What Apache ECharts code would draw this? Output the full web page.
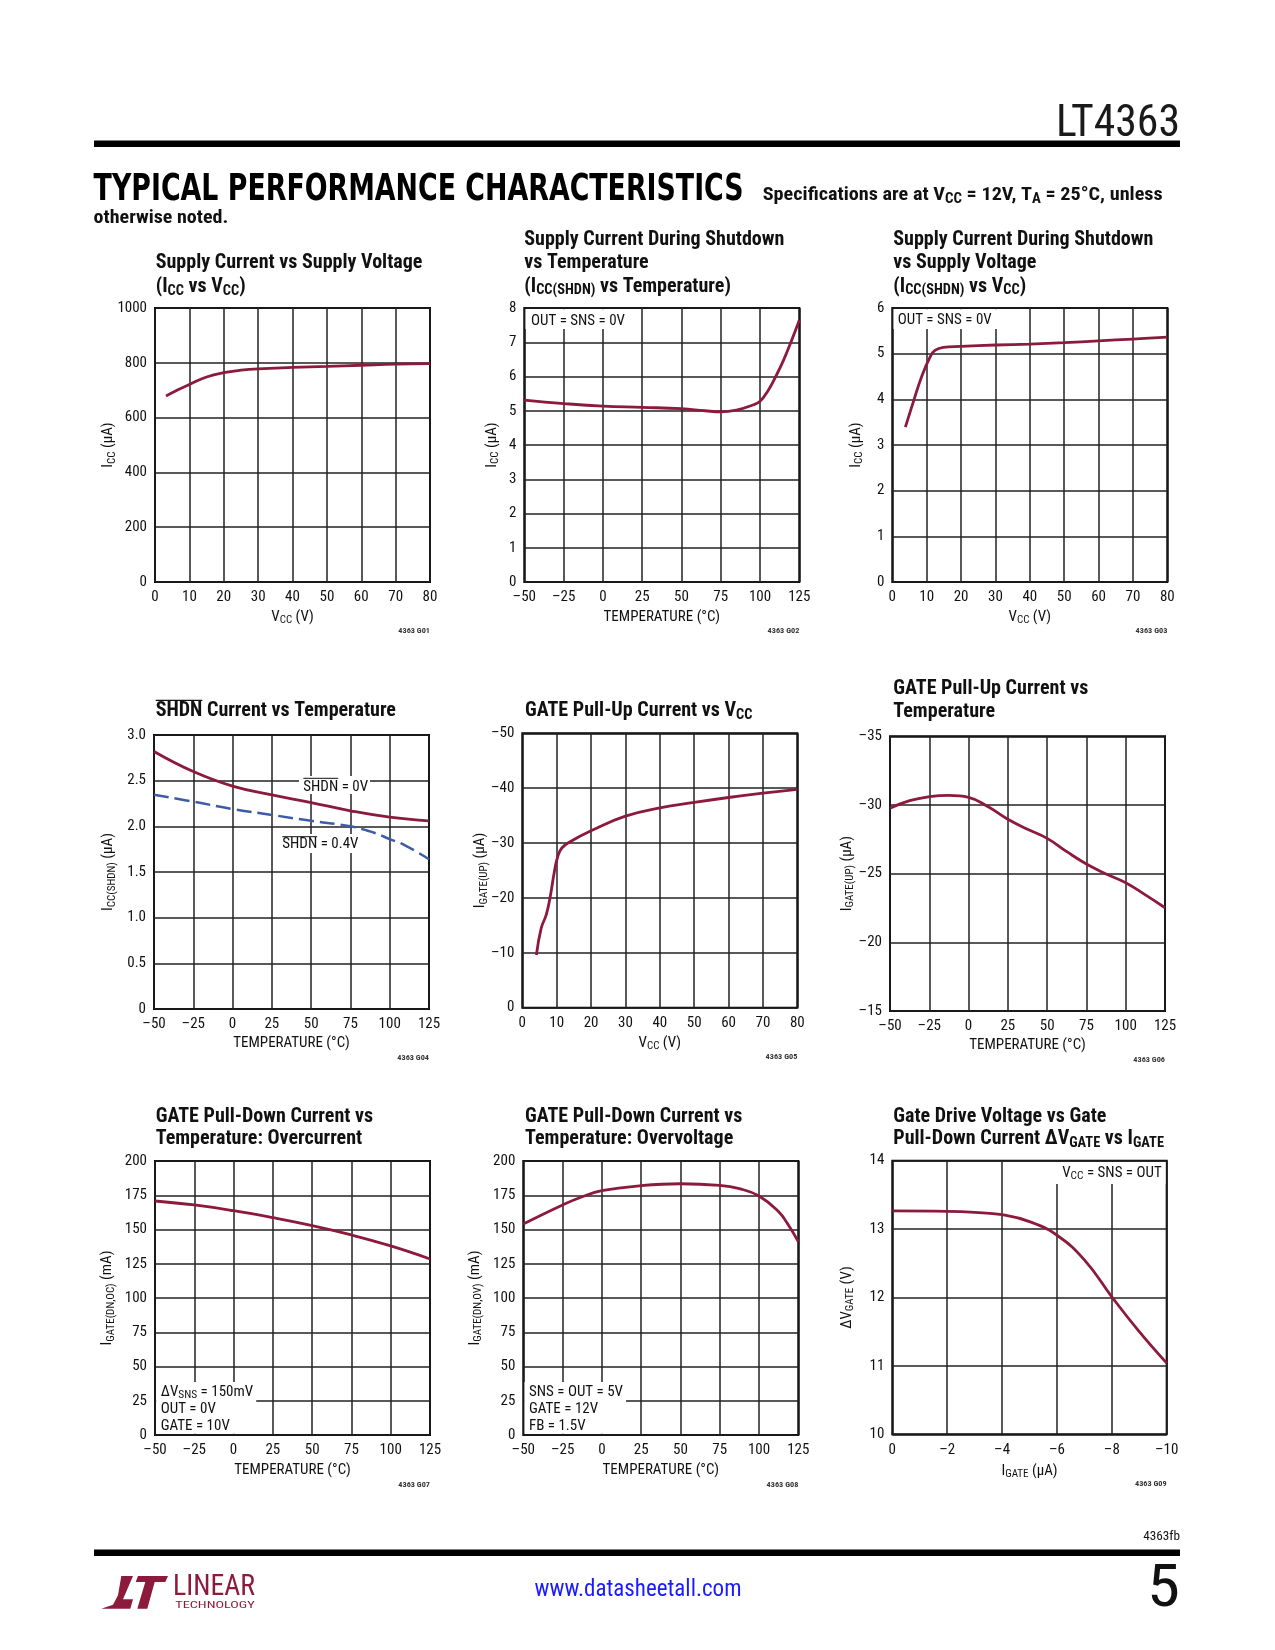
<!DOCTYPE html>
<html><head><meta charset="utf-8">
<script src="https://cdn.jsdelivr.net/npm/echarts@6/dist/echarts.min.js"></script>
<style>html,body{margin:0;padding:0;background:#fff}#c{width:1275px;height:1650px}</style>
</head><body><div id="c"></div><script>
// ---------------- DATA ----------------
const g1_vcc = [3.2, 6, 10, 15, 20, 25, 30, 40, 50, 60, 70, 80];
const g1_icc = [679, 697, 721, 748, 764, 773, 778, 783, 787, 791, 795, 797];
const g1_xaxis = [0, 80, 10], g1_yaxis = [0, 1000, 200];

const g2_temp = [-50, -25, 0, 25, 50, 65, 75, 85, 95, 100, 105, 110, 115, 120, 125];
const g2_icc = [5.31, 5.21, 5.135, 5.10, 5.06, 5.0, 4.97, 5.02, 5.16, 5.28, 5.58, 6.0, 6.48, 7.04, 7.64];
const g2_xaxis = [-50, 125, 25], g2_yaxis = [0, 8, 1];

const g3_vcc = [3.8, 6.1, 8.5, 11, 12.4, 14.8, 20, 30, 40, 50, 60, 70, 80];
const g3_icc = [3.39, 3.94, 4.49, 4.93, 5.07, 5.14, 5.16, 5.19, 5.21, 5.24, 5.28, 5.32, 5.36];
const g3_xaxis = [0, 80, 10], g3_yaxis = [0, 6, 1];

const g4_temp = [-50, -25, 0, 25, 50, 75, 100, 125];
const g4_shdn0v = [2.82, 2.60, 2.44, 2.345, 2.26, 2.17, 2.10, 2.06];
const g4_temp04 = [-50, -25, 0, 25, 50, 75, 90, 100, 110, 125];
const g4_shdn04v = [2.345, 2.27, 2.19, 2.125, 2.06, 2.0, 1.93, 1.86, 1.79, 1.64];
const g4_xaxis = [-50, 125, 25], g4_yaxis = [0, 3, 0.5];

const g5_vcc = [4.1, 5.5, 7.0, 8.2, 9.3, 10.3, 11.5, 13.9, 20, 30, 40, 50, 60, 70, 80];
const g5_igate = [-9.6, -14.5, -17.0, -20.5, -24.7, -27.5, -29.1, -30.25, -32.25, -34.9, -36.4, -37.4, -38.3, -39.1, -39.8];
const g5_xaxis = [0, 80, 10], g5_yaxis = [-50, 0, 10];

const g6_temp = [-50, -37.5, -25, -12.5, 0, 12.5, 25, 37.5, 50, 62.5, 75, 87.5, 100, 112.5, 125];
const g6_igate = [-29.76, -30.31, -30.6, -30.7, -30.56, -29.87, -28.96, -28.23, -27.57, -26.6, -25.7, -24.98, -24.34, -23.45, -22.52];
const g6_xaxis = [-50, 125, 25], g6_yaxis = [-35, -15, 5];

const g7_temp = [-50, -25, 0, 25, 50, 75, 100, 125];
const g7_igate = [170.8, 167.9, 163.7, 158.6, 152.8, 146.0, 138.0, 128.5];
const g7_xaxis = [-50, 125, 25], g7_yaxis = [0, 200, 25];

const g8_temp = [-50, -25, -12.5, 0, 25, 50, 75, 87.5, 100, 112.5, 118, 125];
const g8_igate = [154.0, 167.9, 173.9, 178.3, 182, 183.4, 182.2, 179.8, 174.5, 163, 154.5, 141.1];
const g8_xaxis = [-50, 125, 25], g8_yaxis = [0, 200, 25];

const g9_igate = [0, -2, -3, -4, -5, -6, -7, -8, -9, -10];
const g9_dvgate = [13.265, 13.26, 13.245, 13.21, 13.11, 12.91, 12.55, 12.01, 11.5, 11.04];
const g9_xaxis = [-10, 0, 2], g9_yaxis = [10, 14, 1];

// ---------------- STYLE ----------------
const MAROON = '#8c1a3c';
const BLUE = '#3d5ba8';
const INK = '#111';

const cv = document.createElement('canvas').getContext('2d');
function tw(t, f) { cv.font = f; return cv.measureText(t).width; }
function avail(n) { const s = 'Supply Current 0123 WMil'; return Math.abs(tw(s, '20px monospace') - tw(s, '20px "' + n + '", monospace')) > 0.5; }
const NARROW = ['Liberation Sans Narrow', 'Arial Narrow', 'Roboto Condensed', 'DejaVu Sans Condensed'].find(avail) || 'Liberation Sans';
const FF = '"' + NARROW + '", "Liberation Sans", sans-serif';

function fmtNum(v) { return v < 0 ? '\u2013' + Math.abs(v) : String(v); }
function fmtDec(v) { return v === 0 ? '0' : v.toFixed(1); }
const pairs = (xs, ys) => xs.map((x, i) => [x, ys[i]]);

const NAME_STYLE = {
  color: INK, fontFamily: FF, fontSize: 15, lineHeight: 18,
  rich: {
    n: { color: INK, fontFamily: FF, fontSize: 15, lineHeight: 18 },
    s: { color: INK, fontFamily: FF, fontSize: 11, lineHeight: 11, verticalAlign: 'bottom' }
  }
};
const N_VCC = '{n|V}{s|CC}{n| (V)}';
const N_TEMP = '{n|TEMPERATURE (°C)}';

const CH = [
  { L: 155, T: 308, W: 275, H: 274, xa: g1_xaxis, ya: g1_yaxis, xn: N_VCC, yn: 'I{s|CC} (μA)', xg: 26, ynx: 108.3,
    s: [{ x: g1_vcc, y: g1_icc }], code: '4363 G01', codeY: 631 },
  { L: 524.3, T: 308, W: 275, H: 274, xa: g2_xaxis, ya: g2_yaxis, xn: N_TEMP, yn: 'I{s|CC} (μA)', xg: 26, ynx: 492,
    s: [{ x: g2_temp, y: g2_icc }], code: '4363 G02', codeY: 631 },
  { L: 892.3, T: 308, W: 275, H: 274, xa: g3_xaxis, ya: g3_yaxis, xn: N_VCC, yn: 'I{s|CC} (μA)', xg: 26, ynx: 856,
    s: [{ x: g3_vcc, y: g3_icc }], code: '4363 G03', codeY: 631 },
  { L: 154, T: 735, W: 275, H: 274, xa: g4_xaxis, ya: g4_yaxis, xn: N_TEMP, yn: 'I{s|CC(SHDN)} (μA)', xg: 25, ynx: 108.3, yfmt: fmtDec,
    s: [{ x: g4_temp, y: g4_shdn0v }, { x: g4_temp04, y: g4_shdn04v, dash: true }], code: '4363 G04', codeY: 1057.7 },
  { L: 522.3, T: 733.3, W: 275, H: 274.4, xa: g5_xaxis, ya: g5_yaxis, yinv: true, xn: N_VCC, yn: 'I{s|GATE(UP)} (μA)', xg: 26.5, ynx: 480.5,
    s: [{ x: g5_vcc, y: g5_igate }], code: '4363 G05', codeY: 1056.7 },
  { L: 890, T: 736.3, W: 275, H: 274.7, xa: g6_xaxis, ya: g6_yaxis, yinv: true, xn: N_TEMP, yn: 'I{s|GATE(UP)} (μA)', xg: 25.5, ynx: 847,
    s: [{ x: g6_temp, y: g6_igate }], code: '4363 G06', codeY: 1060 },
  { L: 155, T: 1161, W: 275, H: 274, xa: g7_xaxis, ya: g7_yaxis, xn: N_TEMP, yn: 'I{s|GATE(DN,OC)} (mA)', xg: 26, ynx: 107.5,
    s: [{ x: g7_temp, y: g7_igate }], code: '4363 G07', codeY: 1485 },
  { L: 523.3, T: 1161, W: 275, H: 274, xa: g8_xaxis, ya: g8_yaxis, xn: N_TEMP, yn: 'I{s|GATE(DN,OV)} (mA)', xg: 26, ynx: 475,
    s: [{ x: g8_temp, y: g8_igate }], code: '4363 G08', codeY: 1485 },
  { L: 892.3, T: 1160.7, W: 274.4, H: 273.6, xa: g9_xaxis, ya: g9_yaxis, xinv: true, xn: '{n|I}{s|GATE}{n| (μA)}', yn: 'ΔV{s|GATE} (V)', xg: 27.5, ynx: 847,
    s: [{ x: g9_igate, y: g9_dvgate }], code: '4363 G09', codeY: 1484.3 }
];

const LBL = { color: INK, fontFamily: FF, fontSize: 15 };
const grids = [], xAxes = [], yAxes = [], series = [];
CH.forEach((c, i) => {
  grids.push({ left: c.L, top: c.T, width: c.W, height: c.H, show: true, borderColor: '#000', borderWidth: 2, backgroundColor: 'transparent' });
  const common = {
    gridIndex: i, type: 'value', axisLine: { show: false }, axisTick: { show: false },
    splitLine: { show: true, lineStyle: { color: '#222', width: 1.5 } }
  };
  xAxes.push(Object.assign({}, common, {
    min: c.xa[0], max: c.xa[1], interval: c.xa[2], inverse: !!c.xinv,
    axisLabel: Object.assign({}, LBL, { margin: 8, formatter: fmtNum }),
    name: c.xn, nameGap: c.xg, nameLocation: 'middle', nameTextStyle: NAME_STYLE
  }));
  yAxes.push(Object.assign({}, common, {
    min: c.ya[0], max: c.ya[1], interval: c.ya[2], inverse: !!c.yinv,
    axisLabel: Object.assign({}, LBL, { margin: 8, formatter: c.yfmt || fmtNum })
  }));
  c.s.forEach(s => {
    series.push({
      type: 'line', xAxisIndex: i, yAxisIndex: i, data: pairs(s.x, s.y),
      smooth: 0.45, showSymbol: false, symbol: 'none', silent: true,
      lineStyle: s.dash ? { color: BLUE, width: 2.5, type: [15, 6] } : { color: MAROON, width: 2.8 },
      itemStyle: { color: s.dash ? BLUE : MAROON }, z: 3
    });
  });
});

// ---------------- GRAPHIC TEXT ----------------
const G = [];
function addText(x, y, text, o) {
  o = o || {};
  const st = {
    text: text, fontSize: o.size || 15, fontWeight: o.weight || 'normal', fontFamily: o.family || FF,
    fill: o.color || INK, textFill: o.color || INK,
    align: o.align || 'left', textAlign: o.align || 'left',
    verticalAlign: 'middle', textVerticalAlign: 'middle', legacy: false
  };
  if (o.lh) st.lineHeight = o.lh;
  if (o.rich) st.rich = o.rich;
  G.push({ type: 'text', x: x, y: y, scaleX: o.sx || 1, rotation: o.rot || 0, z: o.z || 20, silent: true, style: st });
}
function addRect(x, y, w, h, fill, z) { G.push({ type: 'rect', z: z || 15, silent: true, shape: { x: x, y: y, width: w, height: h }, style: { fill: fill } }); }
function addLine(x1, y1, x2, y2, w) { G.push({ type: 'line', z: 21, silent: true, shape: { x1: x1, y1: y1, x2: x2, y2: y2 }, style: { stroke: INK, lineWidth: w || 1 } }); }

// y-axis titles (rotated)
const YRICH = { s: { fontSize: 11, fontFamily: FF, lineHeight: 11, verticalAlign: 'bottom', fill: INK, textFill: INK } };
CH.forEach(c => {
  addText(c.ynx, c.T + c.H / 2, c.yn, { size: 15, lh: 18, rich: YRICH, align: 'center', rot: Math.PI / 2 });
});

// chart titles
const TS = 19.5, TD = 2.5;
const TF = 'bold ' + TS + 'px ' + FF;
const sT = 266.7 / tw('Supply Current vs Supply Voltage', TF);
const TRICH = { s: { fontSize: 14, fontWeight: 'bold', fontFamily: FF, lineHeight: 14, verticalAlign: 'bottom', fill: INK, textFill: INK } };
function title(x, y, t) { addText(x, y + TD, t, { size: TS, weight: 'bold', sx: sT, lh: 22, rich: TRICH }); }
title(155.7, 261, 'Supply Current vs Supply Voltage');
title(155.7, 284.5, '(I{s|CC} vs V{s|CC})');
title(524.3, 238, 'Supply Current During Shutdown');
title(524.3, 261, 'vs Temperature');
title(524.3, 284.3, '(I{s|CC(SHDN)} vs Temperature)');
title(893.3, 238, 'Supply Current During Shutdown');
title(893.3, 261, 'vs Supply Voltage');
title(893.3, 284.3, '(I{s|CC(SHDN)} vs V{s|CC})');
title(155.7, 708.8, 'SHDN Current vs Temperature');
addLine(155.7, 700.3, 155.7 + tw('SHDN', TF) * sT, 700.3, 1.2);
title(525, 708.8, 'GATE Pull-Up Current vs V{s|CC}');
title(893.3, 686.7, 'GATE Pull-Up Current vs');
title(893.3, 709.7, 'Temperature');
title(155.7, 1115, 'GATE Pull-Down Current vs');
title(155.7, 1136.7, 'Temperature: Overcurrent');
title(525, 1115, 'GATE Pull-Down Current vs');
title(525, 1136.7, 'Temperature: Overvoltage');
title(893.3, 1115, 'Gate Drive Voltage vs Gate');
title(893.3, 1137, 'Pull-Down Current ΔV{s|GATE} vs I{s|GATE}');

// figure codes
CH.forEach(c => {
  const f = 'bold 8px ' + FF;
  addText(c.L + c.W, c.codeY, c.code, { size: 8, weight: 'bold', align: 'right', color: '#333', sx: 31.7 / tw(c.code, f) });
});

// annotations inside plots
const AS = 14.5, AD = 1;
const AF = AS + 'px ' + FF;
const sA = 94 / tw('OUT = SNS = 0V', AF);
const ARICH = { s: { fontSize: 11, fontFamily: FF, lineHeight: 11, verticalAlign: 'bottom', fill: INK, textFill: INK } };
function ann(x, y, t, align) { addText(x, y + AD, t, { size: AS, sx: sA, lh: 17, rich: ARICH, align: align || 'left' }); }
addRect(525.5, 309.2, 101.5, 19.8, '#fff');
ann(531, 320, 'OUT = SNS = 0V');
addRect(893.5, 309.2, 103.5, 19.8, '#fff');
ann(897.7, 319.5, 'OUT = SNS = 0V');
addRect(299, 776, 71, 18, '#fff');
ann(303.3, 786.5, 'SHDN = 0V');
addLine(303.3, 778.3, 303.3 + tw('SHDN', AF) * sA, 778.3, 1);
addRect(279, 834, 82, 19, '#fff');
ann(282.3, 843.8, 'SHDN = 0.4V');
addLine(282.3, 836.7, 282.3 + tw('SHDN', AF) * sA, 836.7, 1);
addRect(156.2, 1382, 100, 51.8, '#fff');
ann(160.7, 1391.7, 'ΔV{s|SNS} = 150mV');
ann(160.7, 1408.3, 'OUT = 0V');
ann(160.7, 1425, 'GATE = 10V');
addRect(524.5, 1382, 101.5, 51.8, '#fff');
ann(529, 1391.7, 'SNS = OUT = 5V');
ann(529, 1408.3, 'GATE = 12V');
ann(529, 1425, 'FB = 1.5V');
addRect(1056, 1162, 109.5, 22, '#fff');
ann(1161.7, 1172, 'V{s|CC} = SNS = OUT', 'right');

// page header
addText(1180, 125, 'LT4363', { size: 44, align: 'right', sx: 124 / tw('LT4363', '44px ' + FF), color: '#1a1a1a' });
addRect(94, 140.5, 1086, 6.5, '#000', 5);
const HF = 'bold 38px "DejaVu Sans", sans-serif';
addText(93.6, 190.5, 'TYPICAL PERFORMANCE CHARACTERISTICS', { size: 38, weight: 'bold', family: '"DejaVu Sans", sans-serif', sx: 650 / tw('TYPICAL PERFORMANCE CHARACTERISTICS', HF), color: '#000' });
const SF = 'bold 19px ' + FF;
const specW = tw('Specifications are at V = 12V, T = 25°C, unless', SF) + tw('CCA', 'bold 14px ' + FF);
addText(762.7, 195.5, 'Specifications are at V{s|CC} = 12V, T{s|A} = 25°C, unless', { size: 19, weight: 'bold', sx: 400 / specW, lh: 22, rich: TRICH });
addText(93.6, 218.5, 'otherwise noted.', { size: 19, weight: 'bold', sx: 134.7 / tw('otherwise noted.', SF) });

// footer
addText(1180, 1537, '4363fb', { size: 12, align: 'right', sx: 36.8 / tw('4363fb', '12px ' + FF) });
addRect(94, 1549.6, 1086, 6.4, '#000', 5);
addText(638, 1590.6, 'www.datasheetall.com', { size: 23, align: 'center', color: '#1a1aff', sx: 207 / tw('www.datasheetall.com', '23px ' + FF) });
addText(1180, 1590.6, '5', { size: 60, align: 'right', sx: 33 / tw('5', '60px ' + FF), color: '#111' });
// logo
G.push({ type: 'polygon', z: 20, silent: true, style: { fill: MAROON }, shape: { points: [[121.3, 1576], [133, 1576], [123, 1599.3], [133, 1599.3], [130.3, 1608.7], [101.3, 1608.7], [113, 1604.7], [118, 1595.3]] } });
G.push({ type: 'polygon', z: 20, silent: true, style: { fill: MAROON }, shape: { points: [[138, 1576], [168, 1576], [165.3, 1582], [154.7, 1582], [147.3, 1608.7], [137.3, 1608.7], [145.3, 1582], [135.7, 1582]] } });
addText(173, 1587, 'LINEAR', { size: 30, color: MAROON, sx: 82 / tw('LINEAR', '30px ' + FF) });
addText(175.3, 1605.7, 'TECHNOLOGY', { size: 8.5, color: MAROON, sx: 79.4 / tw('TECHNOLOGY', '8.5px ' + FF) });

const chart = echarts.init(document.getElementById('c'), null, { renderer: 'canvas', width: 1275, height: 1650 });
chart.setOption({
  backgroundColor: '#fff', animation: false,
  grid: grids, xAxis: xAxes, yAxis: yAxes, series: series,
  graphic: { elements: G }
});
</script></body></html>
